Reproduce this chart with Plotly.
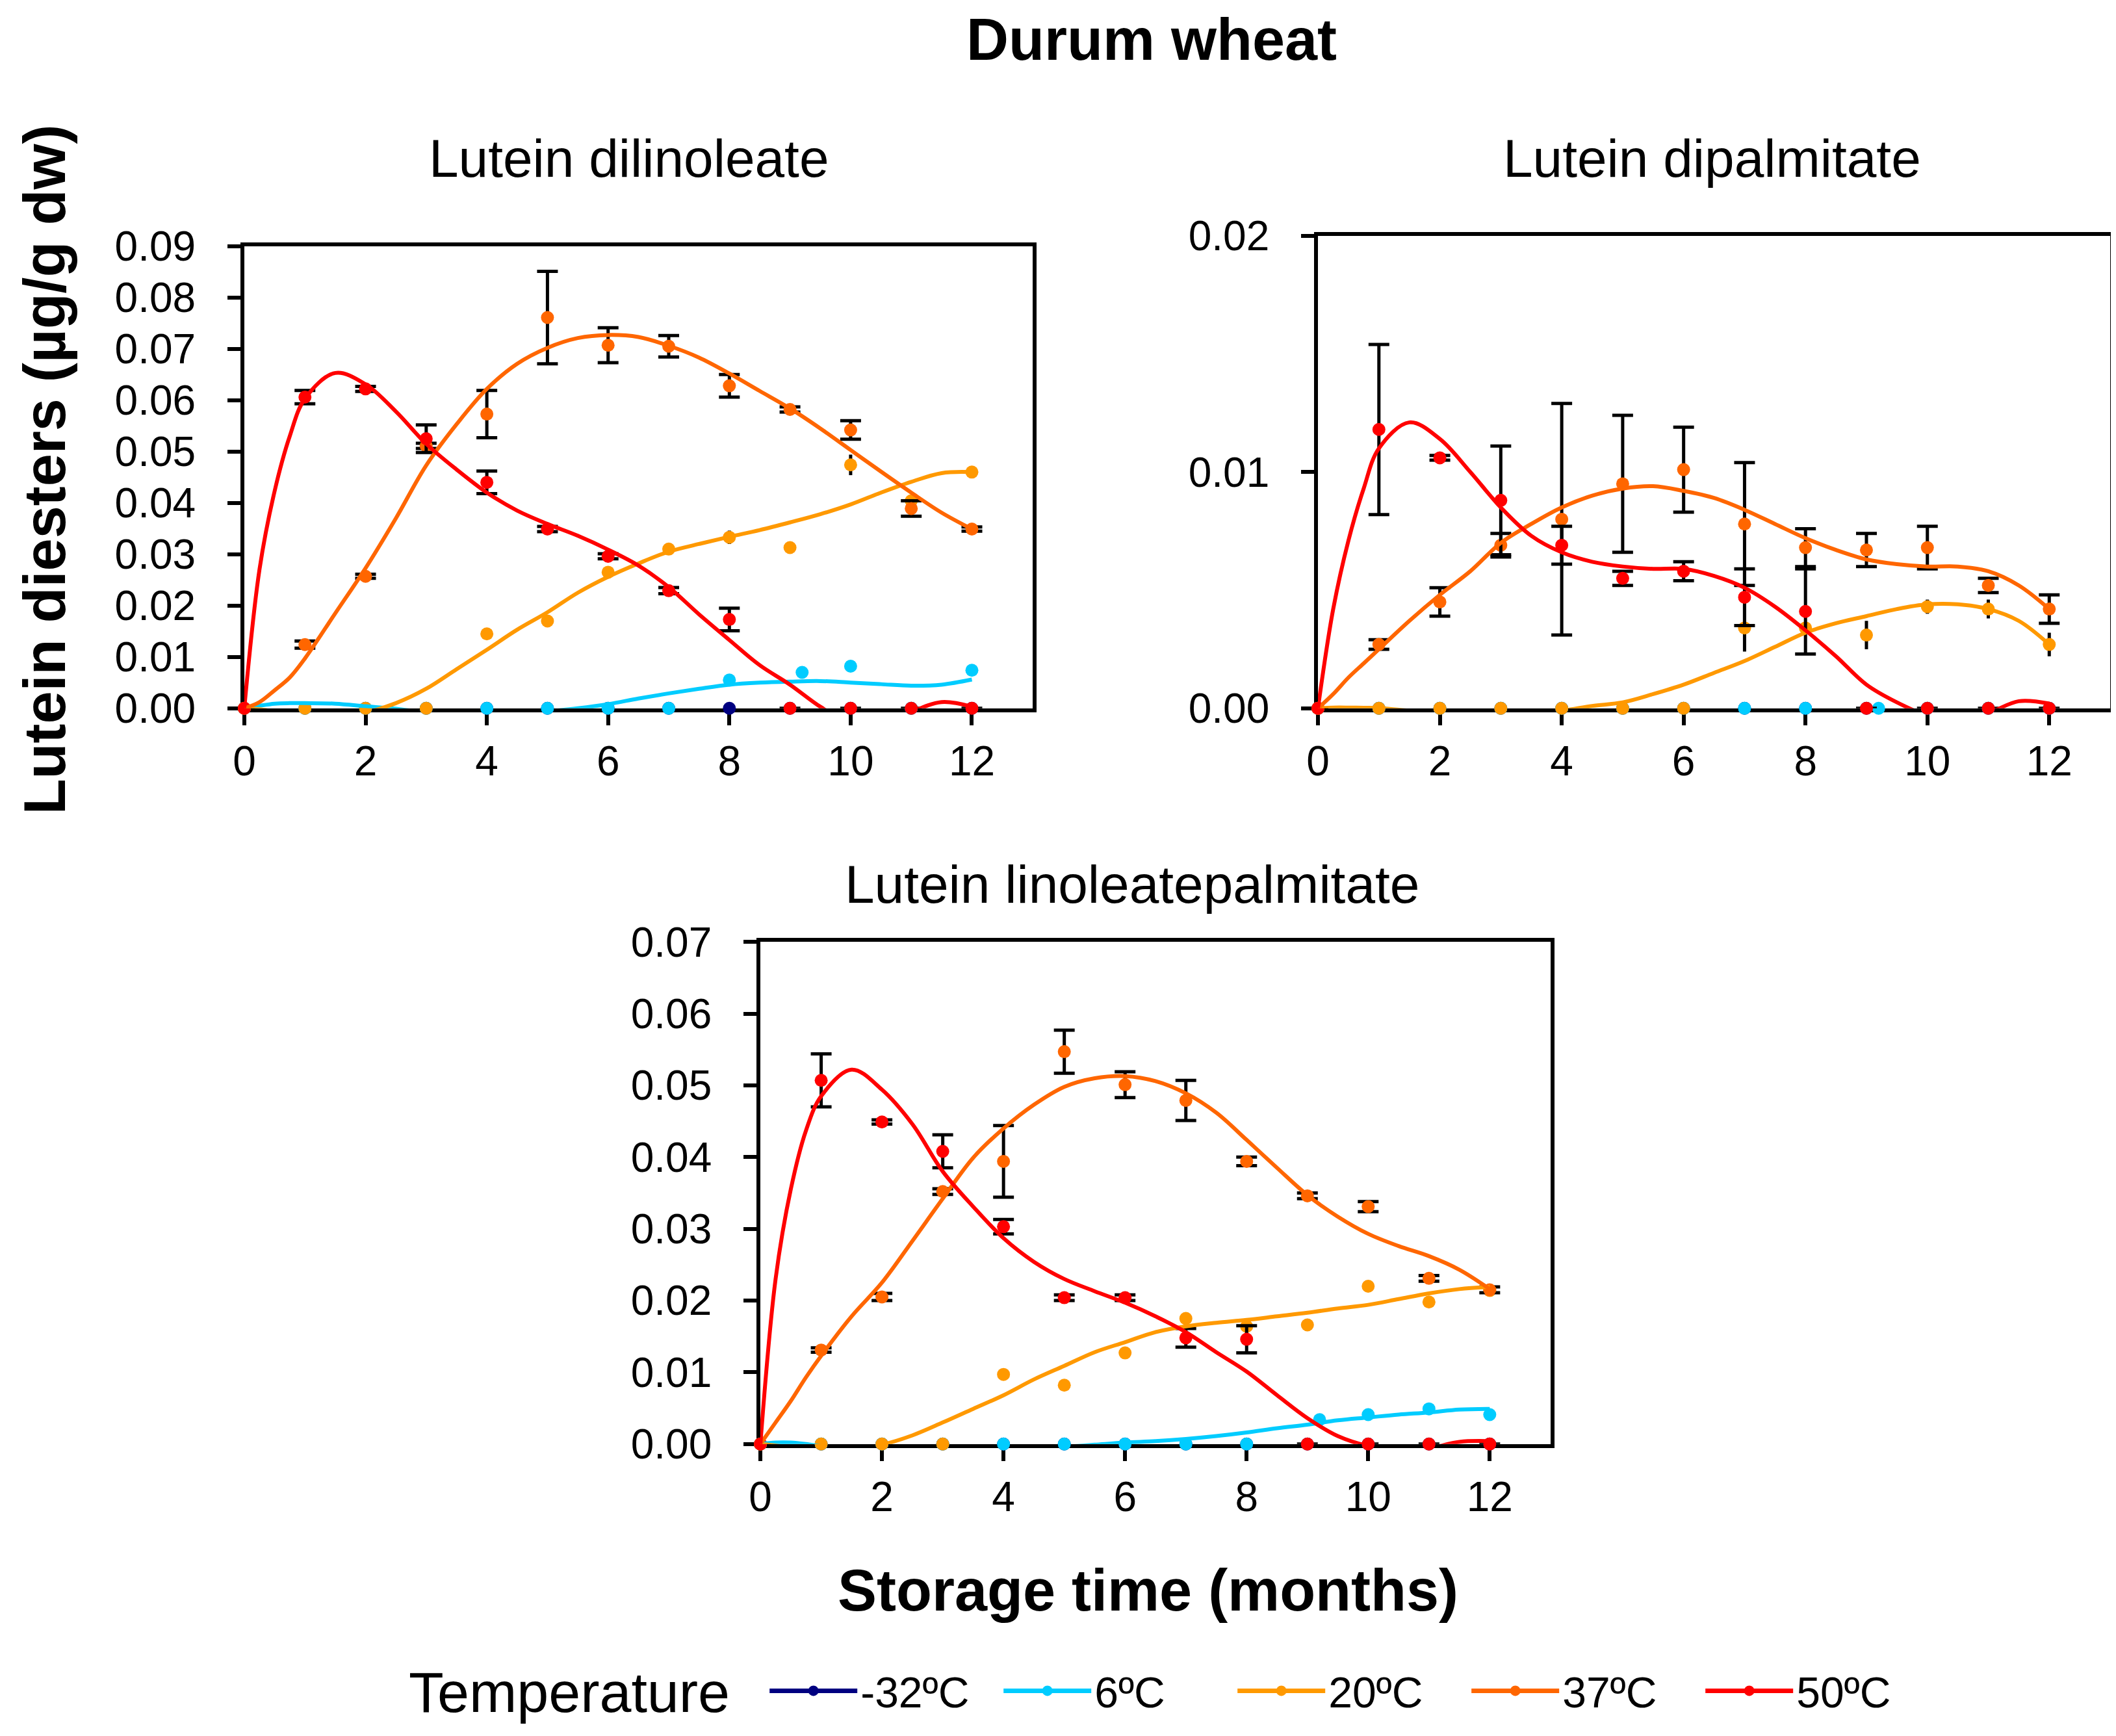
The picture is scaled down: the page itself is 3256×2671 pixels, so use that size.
import plotly.graph_objects as go

# sampling times (months)
months = [0, 1, 2, 3, 4, 5, 6, 7, 8, 9, 10, 11, 12]
months_6c = [0, 1, 2, 3, 4, 5, 6, 7, 8, 9.2, 10, 11, 12]
# x positions where the trend lines were read
fit_t = [0, 0.25, 0.5, 0.75, 1, 1.5, 2, 2.5, 3, 3.5, 4, 4.5, 5, 5.5, 6, 6.5, 7,
         7.5, 8, 8.5, 9, 9.5, 10, 10.5, 11, 11.5, 12]

temps = ["-32ºC", "6ºC", "20ºC", "37ºC", "50ºC"]
colors = ["#000080", "#00CCFF", "#FF9900", "#FF6600", "#FF0000"]

# --- Lutein dilinoleate ---
dil_m32 = [0, 0, 0, 0, 0, 0, 0, 0, 0, 0, 0, 0, 0]
dil_6 = [0, 0, 0, 0, 0, 0, 0, 0, 0.0055, 0.0070, 0.0082, 0, 0.0074]
dil_20 = [0, 0, 0, 0, 0.0145, 0.0170, 0.0265, 0.0310, 0.0333, 0.0313, 0.0474, 0.0404, 0.0460]
dil_20_err = [None, None, None, None, None, None, None, None, 0.0013, None, 0.0020, None, None]
dil_37 = [0, 0.0124, 0.0257, 0.0511, 0.0573, 0.0761, 0.0707, 0.0705, 0.0628, 0.0582, 0.0542, 0.0389, 0.0349]
dil_37_err = [None, 0.0007, 0.0004, 0.0005, 0.0046, 0.0090, 0.0034, 0.0021, 0.0022, 0.0005, 0.0018, 0.0015, 0.0004]
dil_50 = [0, 0.0606, 0.0622, 0.0525, 0.0440, 0.0349, 0.0296, 0.0229, 0.0173, 0, 0, 0, 0]
dil_50_err = [None, 0.0013, 0.0005, 0.0027, 0.0022, 0.0005, 0.0005, 0.0006, 0.0022, None, None, None, None]

dil_fit_6 = [0, 0.0005, 0.0009, 0.0010, 0.0010, 0.0009, 0.0004, -0.0001, -0.0008, -0.0012, -0.0013,
             -0.0011, -0.0006, 0.0, 0.0008, 0.0019, 0.0029, 0.0038, 0.0046, 0.0050, 0.0052, 0.0053,
             0.0050, 0.0047, 0.0044, 0.0046, 0.0056]
dil_fit_20 = [0, -0.0002, -0.0006, -0.0010, -0.0013, -0.0015, -0.0008, 0.0010, 0.0038, 0.0076, 0.0114,
              0.0153, 0.0187, 0.0225, 0.0256, 0.0282, 0.0305, 0.0320, 0.0334, 0.0347, 0.0362, 0.0378,
              0.0397, 0.0420, 0.0441, 0.0458, 0.0460]
dil_fit_37 = [0, 0.0012, 0.0035, 0.0060, 0.0097, 0.0185, 0.0273, 0.0370, 0.0473, 0.0553, 0.0622,
              0.0671, 0.0702, 0.0721, 0.0727, 0.0723, 0.0706, 0.0683, 0.0652, 0.0618, 0.0584, 0.0545,
              0.0503, 0.0461, 0.0420, 0.0381, 0.0349]
dil_fit_50 = [0, 0.0270, 0.0423, 0.0530, 0.0603, 0.0653, 0.0631, 0.0578, 0.0515, 0.0465, 0.0420,
              0.0385, 0.0359, 0.0336, 0.0309, 0.0278, 0.0236, 0.0183, 0.0133, 0.0084, 0.0046, 0.0003,
              -0.0030, -0.0040, -0.0008, 0.0012, 0.0003]

# --- Lutein dipalmitate ---
dip_m32 = [0, 0, 0, 0, 0, 0, 0, 0, 0, 0, 0, 0, 0]
dip_6 = [0, 0, 0, 0, 0, 0, 0, 0, 0, 0, 0, 0, 0]
dip_20 = [0, 0, 0, 0, 0, 0, 0, 0.0034, 0.0034, 0.0031, 0.0043, 0.0042, 0.0027]
dip_20_err = [None, None, None, None, None, None, None, 0.0010, None, 0.0006, 0.0003, 0.0004, 0.0005]
dip_37 = [0, 0.0027, 0.0045, 0.0069, 0.0080, 0.0095, 0.0101, 0.0078, 0.0068, 0.0067, 0.0068, 0.0052, 0.0042]
dip_37_err = [None, 0.0002, 0.0006, 0.0005, 0.0049, 0.0029, 0.0018, 0.0026, 0.0008, 0.0007, 0.0009, 0.0003, 0.0006]
dip_50 = [0, 0.0118, 0.0106, 0.0088, 0.0069, 0.0055, 0.0058, 0.0047, 0.0041, 0, 0, 0, 0]
dip_50_err = [None, 0.0036, 0.0001, 0.0023, 0.0008, 0.0003, 0.0004, 0.0012, 0.0018, None, None, None, None]

dip_fit_20 = [0, 0.00003, 0.00003, 0.00002, 0.00001, -0.0001, -0.0002, -0.0003, -0.0003, -0.0002,
              -0.0001, 0.0001, 0.00025, 0.0006, 0.0010, 0.0015, 0.0020, 0.0026, 0.0032, 0.0036, 0.0039,
              0.0042, 0.0044, 0.0044, 0.0042, 0.0037, 0.0027]
dip_fit_37 = [0, 0.0006, 0.0013, 0.0019, 0.0025, 0.0037, 0.0048, 0.0058, 0.0070, 0.0078, 0.0085,
              0.0090, 0.0093, 0.0094, 0.0092, 0.0089, 0.0084, 0.0078, 0.0072, 0.0067, 0.0063, 0.0061,
              0.0060, 0.0060, 0.0058, 0.0052, 0.0042]
dip_fit_50 = [0, 0.0042, 0.0071, 0.0093, 0.0110, 0.0121, 0.0114, 0.0100, 0.0085, 0.0073, 0.0066,
              0.0062, 0.0060, 0.0059, 0.0059, 0.0056, 0.0051, 0.0043, 0.0033, 0.0022, 0.0010, 0.00025,
              -0.0003, -0.0005, -0.0002, 0.0003, 0.0002]

# --- Lutein linoleatepalmitate ---
lp_m32 = [0, 0, 0, 0, 0, 0, 0, 0, 0, 0, 0, 0, 0]
lp_6 = [0, 0, 0, 0, 0, 0, 0, 0, 0, 0.0034, 0.0041, 0.0049, 0.0041]
lp_20 = [0, 0, 0, 0, 0.0097, 0.0082, 0.0127, 0.0175, 0.0164, 0.0166, 0.0220, 0.0198, 0.0214]
lp_37 = [0, 0.0131, 0.0205, 0.0352, 0.0394, 0.0547, 0.0501, 0.0479, 0.0394, 0.0346, 0.0331, 0.0231, 0.0215]
lp_37_err = [None, 0.0003, 0.0005, 0.0004, 0.0050, 0.0030, 0.0018, 0.0028, 0.0006, 0.0004, 0.0007, 0.0004, 0.0004]
lp_50 = [0, 0.0507, 0.0449, 0.0408, 0.0303, 0.0204, 0.0204, 0.0148, 0.0146, 0, 0, 0, 0]
lp_50_err = [None, 0.0037, 0.0003, 0.0023, 0.0010, 0.0004, 0.0004, 0.0013, 0.0019, None, None, None, None]

lp_fit_6 = [0, 0.0002, 0.0002, 0.0, -0.0003, -0.0008, -0.0010, -0.0011, -0.0011, -0.0010, -0.0009,
            -0.0007, -0.0004, -0.0001, 0.0002, 0.0004, 0.0007, 0.0011, 0.0016, 0.0022, 0.0027, 0.0033,
            0.0037, 0.0041, 0.0044, 0.0048, 0.0049]
lp_fit_20 = [0, -0.0002, -0.0005, -0.0007, -0.0008, -0.0008, -0.0001, 0.0012, 0.0030, 0.0049, 0.0068,
             0.0090, 0.0109, 0.0128, 0.0142, 0.0156, 0.0164, 0.0169, 0.0173, 0.0178, 0.0183, 0.0189,
             0.0194, 0.0202, 0.0210, 0.0216, 0.0219]
lp_fit_37 = [0, 0.0030, 0.0060, 0.0093, 0.0123, 0.0178, 0.0225, 0.0283, 0.0342, 0.0399, 0.0440,
             0.0473, 0.0498, 0.0510, 0.0513, 0.0506, 0.0489, 0.0462, 0.0424, 0.0385, 0.0347, 0.0317,
             0.0293, 0.0276, 0.0262, 0.0243, 0.0216]
lp_fit_50 = [0, 0.0230, 0.0355, 0.0437, 0.0485, 0.0522, 0.0494, 0.0446, 0.0380, 0.0331, 0.0287,
             0.0254, 0.0230, 0.0213, 0.0197, 0.0178, 0.0156, 0.0128, 0.0101, 0.0068, 0.0036, 0.0011,
             -0.0003, -0.0010, -0.0006, 0.0003, 0.0004]

FONT = "Liberation Sans, Arial, sans-serif"

panels = [
    # (xaxis, yaxis, point series, error bars, trend lines)
    ("x", "y",
     [dil_m32, dil_6, dil_20, dil_37, dil_50],
     [None, None, dil_20_err, dil_37_err, dil_50_err],
     [None, dil_fit_6, dil_fit_20, dil_fit_37, dil_fit_50]),
    ("x2", "y2",
     [dip_m32, dip_6, dip_20, dip_37, dip_50],
     [None, None, dip_20_err, dip_37_err, dip_50_err],
     [None, None, dip_fit_20, dip_fit_37, dip_fit_50]),
    ("x3", "y3",
     [lp_m32, lp_6, lp_20, lp_37, lp_50],
     [None, None, None, lp_37_err, lp_50_err],
     [None, lp_fit_6, lp_fit_20, lp_fit_37, lp_fit_50]),
]

fig = go.Figure()

for xa, ya, series, errs, fits in panels:
    # measured points with error bars
    for i, vals in enumerate(series):
        xs = months_6c if i == 1 else months
        err = None
        if errs[i] is not None:
            err = dict(type="data", array=errs[i], color="black", thickness=5,
                       width=0 if i == 2 else 16)
        fig.add_trace(go.Scatter(
            x=xs, y=vals, mode="markers", xaxis=xa, yaxis=ya,
            marker=dict(color=colors[i], size=20), error_y=err,
            cliponaxis=False, showlegend=False,
        ))
    # trend lines
    for i, fit in enumerate(fits):
        if fit is None:
            continue
        fig.add_trace(go.Scatter(
            x=fit_t, y=fit, mode="lines", xaxis=xa, yaxis=ya,
            line=dict(color=colors[i], width=6, shape="spline"),
            showlegend=False,
        ))

# legend entries
for name, c in zip(temps, colors):
    fig.add_trace(go.Scatter(
        x=[None], y=[None], mode="lines+markers", name=name,
        line=dict(color=c, width=7), marker=dict(color=c, size=16),
    ))

axis_style = dict(
    showline=True, linecolor="black", linewidth=6, mirror=True,
    ticks="outside", ticklen=20, tickwidth=6, tickcolor="black",
    showgrid=False, zeroline=False, layer="below traces", automargin=False,
    tickfont=dict(family=FONT, size=64, color="black"),
)
x_style = dict(axis_style, range=[0, 13], tick0=0, dtick=2, ticklabelstandoff=0)
y_style = dict(axis_style, tick0=0, dtick=0.01, tickformat=".2f", ticklabelstandoff=36)

fig.update_layout(
    width=3256, height=2671,
    margin=dict(l=0, r=0, t=0, b=0),
    plot_bgcolor="white", paper_bgcolor="white",
    font=dict(family=FONT, color="black"),
    xaxis=dict(x_style, domain=[0.1130, 0.4855], anchor="y"),
    yaxis=dict(y_style, domain=[0.5950, 0.8612], range=[0, 0.09], anchor="x"),
    xaxis2=dict(x_style, domain=[0.6204, 0.9948], anchor="y2"),
    yaxis2=dict(y_style, domain=[0.5950, 0.8672], range=[0, 0.02], anchor="x2"),
    xaxis3=dict(x_style, domain=[0.3569, 0.7303], anchor="y3"),
    yaxis3=dict(y_style, domain=[0.1712, 0.4604], range=[0, 0.07], anchor="x3"),
    legend=dict(
        orientation="h", x=0.3597, xanchor="left", y=0.0290, yanchor="middle",
        font=dict(family=FONT, size=66, color="black"),
        itemwidth=135, entrywidth=210,
    ),
    annotations=[
        dict(text="<b>Durum wheat</b>", x=0.5418, y=0.9800, font=dict(size=90)),
        dict(text="Lutein dilinoleate", x=0.2948, y=0.9120, font=dict(size=82)),
        dict(text="Lutein dipalmitate", x=0.8068, y=0.9120, font=dict(size=82)),
        dict(text="Lutein linoleatepalmitate", x=0.5326, y=0.4935, font=dict(size=82)),
        dict(text="<b>Lutein diesters (µg/g dw)</b>", x=0.019, y=0.7325,
             textangle=-90, font=dict(size=90)),
        dict(text="<b>Storage time (months)</b>", x=0.54, y=0.0870, font=dict(size=90)),
        dict(text="Temperature", x=0.2666, y=0.0282, font=dict(size=88)),
    ],
)
fig.update_annotations(xref="paper", yref="paper", showarrow=False,
                       xanchor="center", yanchor="middle")

fig.write_html("out.html")
